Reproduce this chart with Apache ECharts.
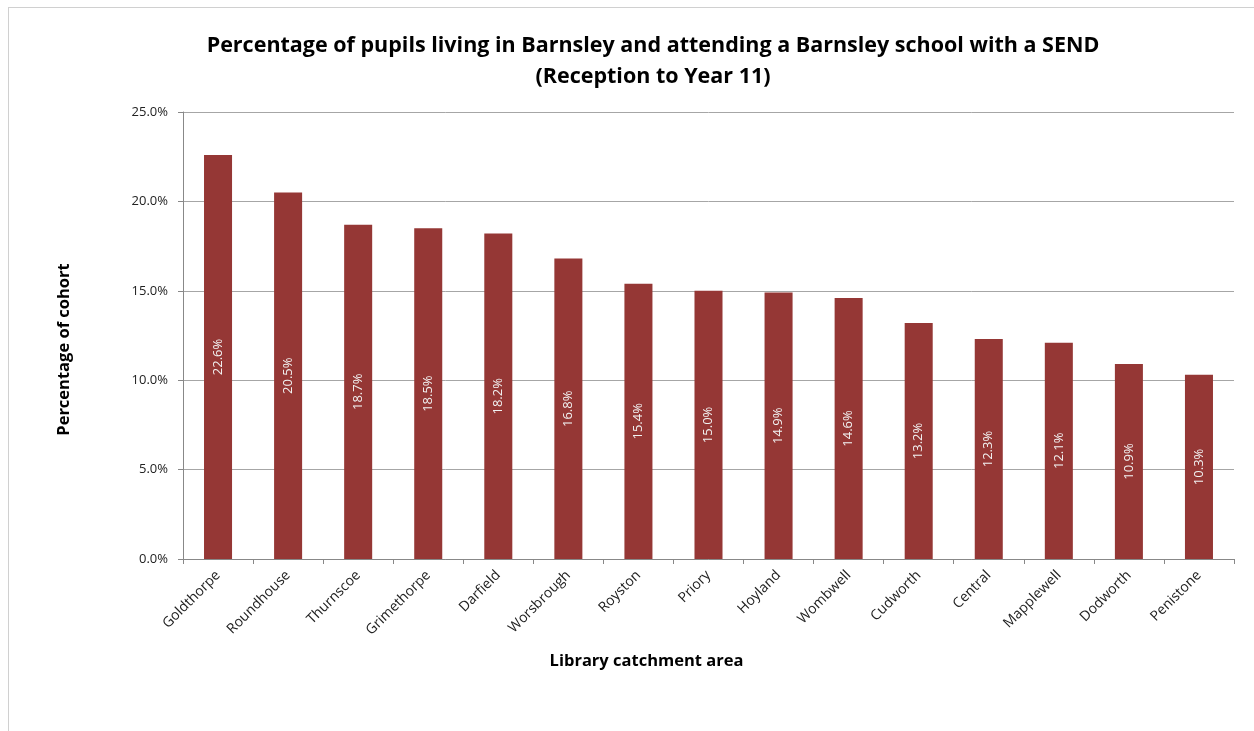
<!DOCTYPE html>
<html>
<head>
<meta charset="utf-8">
<script src="https://cdn.jsdelivr.net/npm/echarts@6/dist/echarts.min.js"></script>
<style>
html,body{margin:0;padding:0;background:#fff;}
#frame{position:absolute;left:8px;top:7px;width:1300px;height:800px;border-left:1px solid #d0d0d0;border-top:1px solid #d0d0d0;}
#chart{position:absolute;left:0;top:0;width:1254px;height:731px;}
</style>
</head>
<body>
<div id="frame"></div>
<div id="chart"></div>
<script>
const categories = ["Goldthorpe","Roundhouse","Thurnscoe","Grimethorpe","Darfield","Worsbrough","Royston","Priory","Hoyland","Wombwell","Cudworth","Central","Mapplewell","Dodworth","Penistone"];
const values = [22.6,20.5,18.7,18.5,18.2,16.8,15.4,15.0,14.9,14.6,13.2,12.3,12.1,10.9,10.3];
const yTicks = {min:0, max:25, interval:5};
const titleLines = ["Percentage of pupils living in Barnsley and attending a Barnsley school with a SEND","(Reception to Year 11)"];

const chart = echarts.init(document.getElementById('chart'), null, {renderer:'canvas'});
const F = '"Open Sans", Lato, sans-serif';
chart.setOption({
  backgroundColor:'transparent',
  animation:false,
  title:{
    text:titleLines.join('\n'),
    left:648, textAlign:'center', top:25,
    textStyle:{fontFamily:F, fontWeight:'bold', fontSize:21.5, lineHeight:31, color:'#000'}
  },
  grid:{left:183, right:20, top:112, bottom:172},
  xAxis:{
    type:'category', data:categories,
    name:'Library catchment area', nameLocation:'middle', nameGap:94,
    nameTextStyle:{fontFamily:F, fontWeight:'bold', fontSize:16.5, color:'#000', padding:[0,124,0,0]},
    axisLine:{lineStyle:{color:'#888'}},
    axisTick:{show:true, alignWithLabel:false, length:5, lineStyle:{color:'#888'}},
    axisLabel:{rotate:45, fontFamily:F, fontSize:14, color:'#222', margin:14, interval:0}
  },
  yAxis:{
    type:'value', min:yTicks.min, max:yTicks.max, interval:yTicks.interval,
    name:'Percentage of cohort', nameLocation:'middle', nameGap:110, nameRotate:90,
    nameTextStyle:{fontFamily:F, fontWeight:'bold', fontSize:16.5, color:'#000', padding:[0,28,0,0]},
    axisLine:{show:true, lineStyle:{color:'#888'}},
    axisTick:{show:true, length:5, lineStyle:{color:'#888'}},
    splitLine:{lineStyle:{color:'#a6a6a6'}},
    axisLabel:{fontFamily:F, fontSize:13, color:'#222', margin:15, formatter:v=>v.toFixed(1)+'%'}
  },
  series:[{
    type:'bar', data:values, barWidth:'40%',
    itemStyle:{color:'#953735'},
    label:{show:true, position:'inside', rotate:90, color:'#f2f2f2', fontFamily:F, fontSize:13,
      formatter:p=>p.value.toFixed(1)+'%'}
  }]
});
</script>
</body>
</html>
